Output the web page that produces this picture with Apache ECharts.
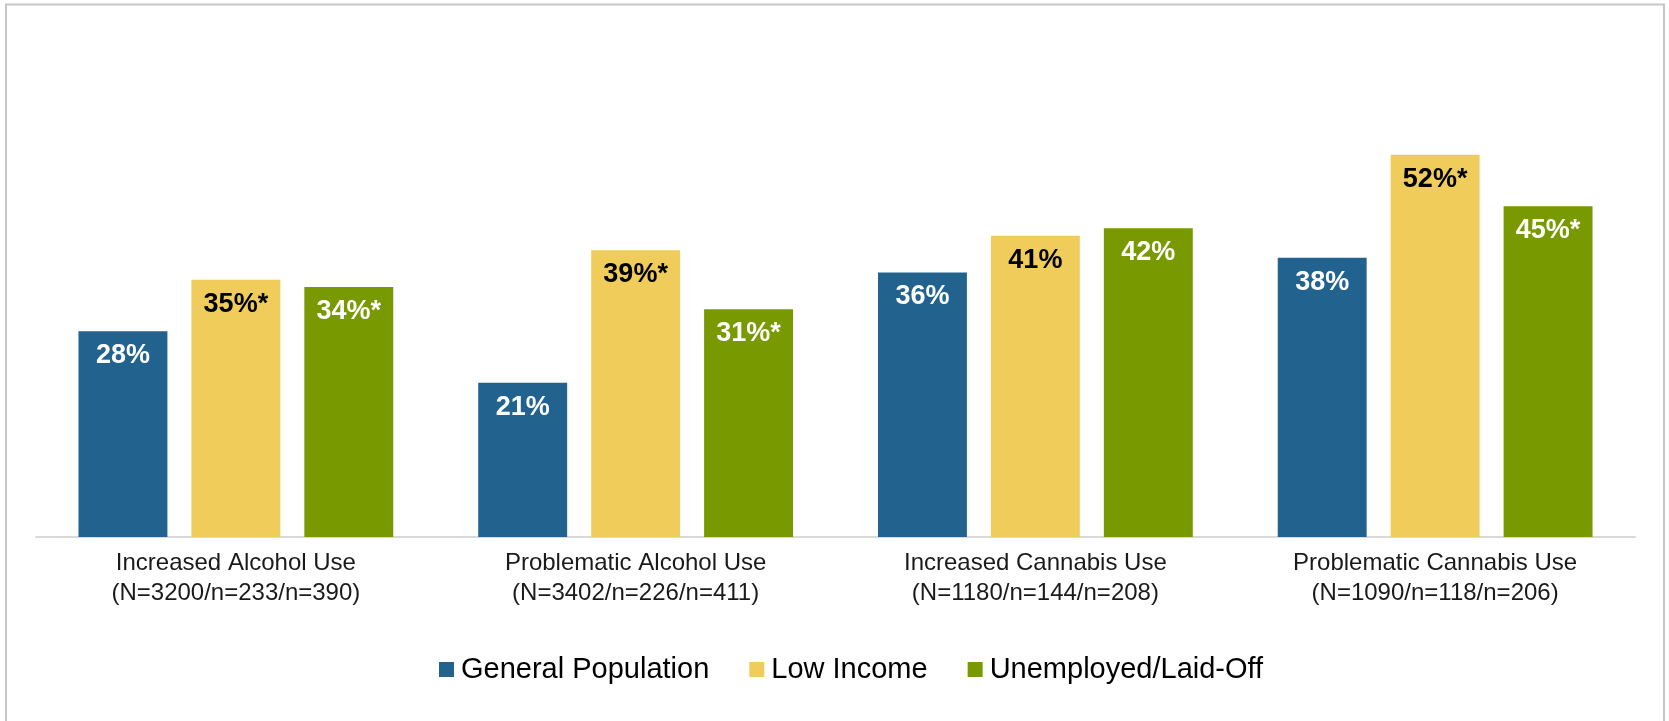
<!DOCTYPE html>
<html>
<head>
<meta charset="utf-8">
<title>Substance use by population group</title>
<script src="https://cdn.jsdelivr.net/npm/echarts@6/dist/echarts.min.js"></script>
<style>
  html, body { margin: 0; padding: 0; background: #ffffff; }
  #chart { width: 1669px; height: 721px; }
</style>
</head>
<body>
<div id="chart"></div>
<script>
// Categories (two-line labels: measure + sample sizes)
const categories = [
  'Increased Alcohol Use\n(N=3200/n=233/n=390)',
  'Problematic Alcohol Use\n(N=3402/n=226/n=411)',
  'Increased Cannabis Use\n(N=1180/n=144/n=208)',
  'Problematic Cannabis Use\n(N=1090/n=118/n=206)'
];

// Percent values per group
const generalPopulation = [28, 21, 36, 38];
const lowIncome = [35, 39, 41, 52];
const unemployed = [34, 31, 42, 45];

// Significance markers shown after the value
const lowIncomeSig = [true, true, false, true];
const unemployedSig = [true, true, false, true];

const seriesNames = ['General Population', 'Low Income', 'Unemployed/Laid-Off'];
const colors = ['#21628f', '#f0cd5b', '#789900'];
const labelColors = ['#ffffff', '#000000', '#ffffff'];

const FONT = '"Liberation Sans", Arial, Helvetica, sans-serif';

function makeSeries(idx, values, sig) {
  return {
    name: seriesNames[idx],
    type: 'bar',
    data: values,
    itemStyle: { color: colors[idx] },
    barGap: '27%',
    barCategoryGap: '21.25%',
    label: {
      show: true,
      position: 'insideTop',
      distance: 11,
      color: labelColors[idx],
      fontFamily: FONT,
      fontWeight: 'bold',
      fontSize: 27,
      formatter: p => p.value + '%' + (sig && sig[p.dataIndex] ? '*' : '')
    },
    emphasis: { disabled: true }
  };
}

const chart = echarts.init(document.getElementById('chart'));
chart.setOption({
  animation: false,
  backgroundColor: '#ffffff',
  textStyle: { fontFamily: FONT },
  graphic: [{
    type: 'rect',
    shape: { x: 6, y: 4.5, width: 1658, height: 760 },
    style: { fill: 'none', stroke: '#c6c6c6', lineWidth: 2 },
    silent: true
  }],
  grid: { left: 36, right: 34, top: 96, bottom: 184 },
  legend: {
    data: seriesNames,
    left: 434,
    top: 650,
    icon: 'rect',
    itemWidth: 15,
    itemHeight: 15,
    itemGap: 40,
    textStyle: { fontFamily: FONT, fontSize: 29, color: '#000000', padding: [0, 0, 0, 2] }
  },
  xAxis: {
    type: 'category',
    data: categories,
    axisLine: { lineStyle: { color: '#d9d9d9', width: 2 } },
    axisTick: { show: false },
    axisLabel: {
      fontFamily: FONT,
      fontSize: 24,
      lineHeight: 30,
      color: '#1a1a1a',
      margin: 11,
      interval: 0
    }
  },
  yAxis: {
    type: 'value',
    min: 0,
    max: 60,
    show: false,
    splitLine: { show: false }
  },
  series: [
    makeSeries(0, generalPopulation, null),
    makeSeries(1, lowIncome, lowIncomeSig),
    makeSeries(2, unemployed, unemployedSig)
  ]
});
</script>
</body>
</html>
